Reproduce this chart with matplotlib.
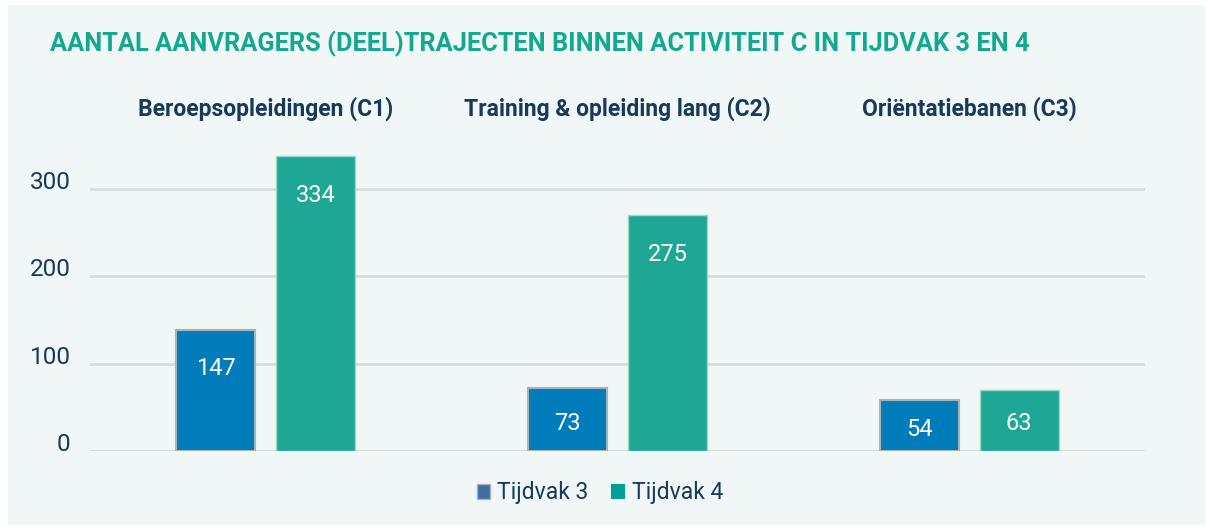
import numpy as np
import matplotlib.pyplot as plt
from matplotlib.patches import Patch, Rectangle

categories = ["Beroepsopleidingen (C1)", "Training & opleiding lang (C2)", "Oriëntatiebanen (C3)"]
series_names = ["Tijdvak 3", "Tijdvak 4"]
# bar heights as drawn in the picture, and the printed labels
tijdvak3_heights = [139, 72, 58]
tijdvak4_heights = [338, 270, 70]
tijdvak3_labels = [147, 73, 54]
tijdvak4_labels = [334, 275, 63]
yticks = [0, 100, 200, 300]

BG = "#F1F6F7"
NAVY = "#17395C"
TEAL = "#13A990"
BLUE = "#007CBA"
GREEN = "#1EA795"

plt.rcParams['font.family'] = ['Roboto', 'DejaVu Sans']

fig = plt.figure(figsize=(12.07, 5.29), dpi=100)
fig.patch.set_facecolor("white")
fig.patches.append(Rectangle((8 / 1207, 4 / 529), 1197 / 1207, 520 / 529, transform=fig.transFigure,
                             facecolor=BG, edgecolor="none", zorder=-5))

ax = fig.add_axes([90 / 1207, 78 / 529, 1055 / 1207, 301 / 529])
ax.set_facecolor("none")
for s in ax.spines.values():
    s.set_visible(False)

x = np.arange(len(categories))
w = 0.225
off = 0.142
b3 = ax.bar(x - off, tijdvak3_heights, w, color=BLUE, edgecolor="#A7B3B9", linewidth=1.5, zorder=3)
b4 = ax.bar(x + off, tijdvak4_heights, w, color=GREEN, edgecolor="#9FD6CC", linewidth=1, zorder=3)

for bars, labels in [(b3, tijdvak3_labels), (b4, tijdvak4_labels)]:
    for bar, lab in zip(bars, labels):
        h = bar.get_height()
        y = max(h / 2 - 4, h - 45)
        ax.text(bar.get_x() + bar.get_width() / 2, y, str(lab), ha="center", va="center",
                color="white", fontsize=17, zorder=4)

ax.set_xlim(-0.5, 2.5)
ax.set_ylim(0, 344.8)
ax.set_yticks(yticks)
ax.set_yticklabels([str(t) for t in yticks], color=NAVY, fontsize=17.5, va="baseline")
ax.tick_params(axis="y", length=0, pad=14)
ax.set_xticks([])
ax.yaxis.grid(True, color="#D8DEE0", linewidth=2)
ax.set_axisbelow(True)

for xi, cat in zip(x, categories):
    ax.text(xi, 392, cat, ha="center", va="center", color=NAVY, fontsize=16.5, fontweight="bold")

fig.text(50 / 1207, 1 - 44 / 529, "AANTAL AANVRAGERS (DEEL)TRAJECTEN BINNEN ACTIVITEIT C IN TIJDVAK 3 EN 4",
         ha="left", va="center", color=TEAL, fontsize=18.3, fontweight="bold")

handles = [Patch(facecolor="#3F6DA0", edgecolor="#A7B3B9"), Patch(facecolor="#00A09A", edgecolor="none")]
fig.legend(handles, series_names, loc="center", bbox_to_anchor=(600 / 1207, 1 - 493 / 529), ncol=2,
           frameon=False, fontsize=16.5, labelcolor=NAVY, handlelength=0.6, handleheight=0.6,
           handletextpad=0.3, columnspacing=1.0)

fig.savefig("out.png", dpi=100, facecolor=fig.get_facecolor())
